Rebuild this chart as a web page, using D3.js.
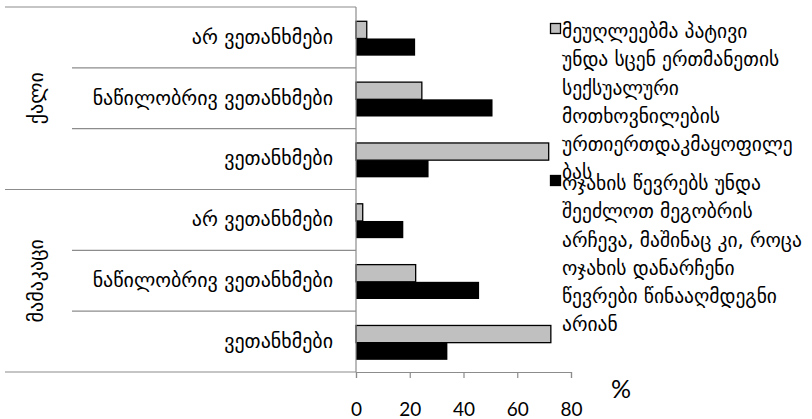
<!DOCTYPE html>
<html><head><meta charset="utf-8">
<script src="https://cdn.jsdelivr.net/npm/d3@7"></script>
<style>body{margin:0;background:#fff}svg{display:block}</style>
</head><body>
<svg id="c" width="812" height="419"></svg>
<script>
const groups = ["ქალი", "მამაკაცი"];
const categories = ["არ ვეთანხმები", "ნაწილობრივ ვეთანხმები", "ვეთანხმები"];
const seriesNames = [
  "მეუღლეებმა პატივი უნდა სცენ ერთმანეთის სექსუალური მოთხოვნილების ურთიერთდაკმაყოფილებას",
  "ოჯახის წევრებს უნდა შეეძლოთ მეგობრის არჩევა, მაშინაც კი, როცა ოჯახის დანარჩენი წევრები წინააღმდეგნი არიან"
];
const legendLines1 = ["მეუღლეებმა პატივი", "უნდა სცენ ერთმანეთის", "სექსუალური", "მოთხოვნილების", "ურთიერთდაკმაყოფილე", "ბას"];
const legendLines2 = ["ოჯახის წევრებს უნდა", "შეეძლოთ მეგობრის", "არჩევა, მაშინაც კი, როცა", "ოჯახის დანარჩენი", "წევრები წინააღმდეგნი", "არიან"];
// values in order: ქალი (არ, ნაწილობრივ, ვეთანხმები), მამაკაცი (არ, ნაწილობრივ, ვეთანხმები)
const series1 = [4, 24.5, 71.7, 2.5, 22.2, 72.5];
const series2 = [22, 50.8, 27, 17.6, 45.8, 34];
const xTicks = [0, 20, 40, 60, 80];
const axisTitle = "%";

const svg = d3.select("#c");
const GF = "'DejaVu Sans', sans-serif";
const NF = "Lato, 'Open Sans', sans-serif";
const lineCol = "#8c8c8c";

const rows = [];
groups.forEach((g, gi) => categories.forEach((c, ci) => rows.push({g, c, gi, ci, key: gi + "-" + ci})));
rows.forEach((r, i) => { r.v1 = series1[i]; r.v2 = series2[i]; });

const x = d3.scaleLinear().domain([0, 80]).range([356, 571]);
const y = d3.scaleBand().domain(rows.map(r => r.key)).range([7, 372]).padding(0);
const bw = y.bandwidth();
const yi = d3.scaleBand().domain([0, 1]).range([0.235 * bw, 0.80 * bw]).padding(0);

// separator lines
const bounds = rows.map((r, i) => ({y: y(r.key), outer: r.ci === 0}));
bounds.push({y: y.range()[1], outer: true});
svg.append("g").selectAll("line").data(bounds).join("line")
  .attr("x1", d => d.outer ? 5 : 72).attr("x2", x(0))
  .attr("y1", d => d.y).attr("y2", d => d.y)
  .attr("stroke", lineCol).attr("stroke-width", 1.2);

// bars
const bars = svg.append("g");
bars.selectAll("rect.s1").data(rows).join("rect").attr("class", "s1")
  .attr("x", x(0)).attr("y", d => y(d.key) + yi(0))
  .attr("width", d => x(d.v1) - x(0)).attr("height", yi.bandwidth())
  .attr("fill", "#c0c0c0").attr("stroke", "#000").attr("stroke-width", 1.3);
bars.selectAll("rect.s2").data(rows).join("rect").attr("class", "s2")
  .attr("x", x(0)).attr("y", d => y(d.key) + yi(1))
  .attr("width", d => x(d.v2) - x(0)).attr("height", yi.bandwidth())
  .attr("fill", "#000");

// vertical axis line
svg.append("line").attr("x1", x(0)).attr("x2", x(0))
  .attr("y1", y.range()[0]).attr("y2", y.range()[1])
  .attr("stroke", lineCol).attr("stroke-width", 1.2);

// x axis
const xa = svg.append("g").attr("transform", `translate(0,${y.range()[1]})`)
  .call(d3.axisBottom(x).tickValues(xTicks).tickSizeOuter(0).tickSize(6));
xa.select(".domain").attr("stroke", lineCol).attr("stroke-width", 1.2);
xa.selectAll(".tick line").attr("stroke", lineCol).attr("stroke-width", 1.2);
xa.selectAll(".tick text").attr("y", 37).attr("dy", "0.35em")
  .attr("font-family", NF).attr("font-size", 19).attr("fill", "#000");
svg.append("text").attr("x", 621).attr("y", 389).attr("dy", "0.35em")
  .attr("text-anchor", "middle").attr("font-family", NF).attr("font-size", 25)
  .text(axisTitle);

// category labels
svg.append("g").selectAll("text").data(rows).join("text")
  .attr("x", 333).attr("y", d => y(d.key) + bw / 2).attr("dy", "0.32em")
  .attr("text-anchor", "end").attr("font-family", GF).attr("font-size", 20)
  .text(d => d.c);

// group labels
svg.append("g").selectAll("text").data(groups).join("text")
  .attr("transform", (g, gi) => {
    const ys = rows.filter(r => r.gi === gi).map(r => y(r.key));
    const cy = (d3.min(ys) + d3.max(ys) + bw) / 2;
    return `translate(37,${cy}) rotate(-90)`;
  })
  .attr("dy", "0.32em").attr("text-anchor", "middle")
  .attr("font-family", GF).attr("font-size", 20).text(d => d);

// legend
const legend = [
  {lines: legendLines1, fill: "#c0c0c0", stroke: "#000", y0: 32, name: seriesNames[0]},
  {lines: legendLines2, fill: "#000", stroke: "#000", y0: 184, name: seriesNames[1]}
];
const lg = svg.append("g");
legend.forEach(item => {
  lg.append("rect").attr("x", 550.5).attr("y", item.y0 - 8.5).attr("width", 10).attr("height", 10)
    .attr("fill", item.fill).attr("stroke", item.stroke).attr("stroke-width", 1.3);
  const t = lg.append("text").attr("font-family", GF).attr("font-size", 19.5);
  t.append("title").text(item.name);
  item.lines.forEach((l, i) => {
    t.append("tspan").attr("x", 562).attr("y", item.y0 + i * 28.2).attr("dy", "0.32em").text(l);
  });
});
</script>
</body></html>
